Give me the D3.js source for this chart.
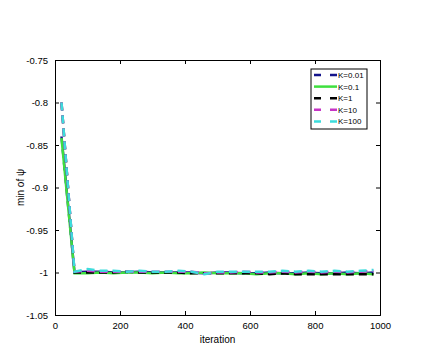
<!DOCTYPE html>
<meta charset="utf-8">
<style>
body { margin: 0; background: #fff; }
text { font-family: "Liberation Sans", Arial, sans-serif; fill: #000; }
.axis text { font-size: 9.5px; }
.axis path, .axis line { stroke: #000; }
</style>
<svg width="447" height="350"></svg>
<script src="https://d3js.org/d3.v7.min.js"></script>
<script>
var iterations = [20, 60, 100, 140, 180, 220, 260, 300, 340, 380, 420, 460, 500, 540, 580, 620, 660, 700, 740, 780, 820, 860, 900, 940, 980];
var k001 = [-0.840, -1.000, -0.999, -0.999, -1.000, -1.000, -0.999, -1.000, -1.000, -1.000, -1.000, -1.001, -1.000, -1.000, -1.001, -1.001, -1.000, -1.001, -1.001, -1.000, -1.001, -1.001, -1.000, -1.001, -1.000];
var k01  = [-0.842, -1.001, -1.001, -1.000, -1.001, -1.000, -1.000, -1.001, -1.000, -1.001, -1.001, -1.000, -1.001, -1.001, -1.001, -1.002, -1.001, -1.001, -1.002, -1.001, -1.002, -1.001, -1.002, -1.001, -1.002];
var k1   = [-0.800, -1.000, -1.000, -1.000, -1.000, -0.999, -1.000, -1.000, -1.000, -1.000, -1.001, -1.001, -1.001, -1.001, -1.001, -1.001, -1.002, -1.001, -1.002, -1.002, -1.002, -1.002, -1.002, -1.002, -1.002];
var k10  = [-0.800, -0.999, -0.998, -0.999, -0.999, -0.999, -0.999, -0.999, -0.999, -0.999, -0.999, -1.001, -1.000, -1.000, -0.999, -1.000, -1.000, -0.999, -1.000, -0.999, -1.000, -0.999, -1.000, -0.999, -0.998];
var k100 = [-0.800, -0.999, -0.996, -0.998, -0.998, -0.999, -0.998, -0.999, -0.999, -0.998, -0.999, -1.002, -0.999, -0.999, -0.999, -0.999, -0.999, -0.998, -0.999, -0.998, -0.999, -0.998, -0.999, -0.998, -0.997];
var labels = ["K=0.01", "K=0.1", "K=1", "K=10", "K=100"];
var colors = ["#14148c", "#3ee03e", "#000000", "#c634c6", "#3cdcdc"];
var dashes = ["8,5", null, "8,5", "8,5", "8,5"];
var xTicks = [0, 200, 400, 600, 800, 1000];
var yTicks = [-1.05, -1, -0.95, -0.9, -0.85, -0.8, -0.75];

var series = [k001, k01, k1, k10, k100];

var svg = d3.select("svg"),
    mLeft = 55, mRight = 380, mTop = 60, mBottom = 315;

var x = d3.scaleLinear().domain([0, 1000]).range([mLeft, mRight]);
var y = d3.scaleLinear().domain([-1.05, -0.75]).range([mBottom, mTop]);

var fmt = function(d) { return String(+d.toFixed(2)); };

svg.append("g").attr("class", "axis")
   .attr("transform", "translate(0," + mBottom + ")")
   .call(d3.axisBottom(x).tickValues(xTicks).tickSize(-4).tickPadding(7).tickFormat(d3.format("d")))
svg.append("g").attr("class", "axis")
   .attr("transform", "translate(0," + mTop + ")")
   .call(d3.axisTop(x).tickValues(xTicks).tickSize(-4).tickFormat(""))
svg.append("g").attr("class", "axis")
   .attr("transform", "translate(" + mLeft + ",0)")
   .call(d3.axisLeft(y).tickValues(yTicks).tickSize(-4).tickPadding(7).tickFormat(fmt))
svg.append("g").attr("class", "axis")
   .attr("transform", "translate(" + mRight + ",0)")
   .call(d3.axisRight(y).tickValues(yTicks).tickSize(-4).tickFormat(""))

var line = d3.line()
             .x((d, i) => x(iterations[i]))
             .y(d => y(d));

svg.append("g").selectAll("path")
   .data(series)
   .enter().append("path")
     .attr("d", line)
     .attr("fill", "none")
     .attr("stroke", (d, i) => colors[i])
     .attr("stroke-width", 2.5)
     .attr("stroke-dasharray", (d, i) => dashes[i])

// legend
var legend = svg.append("g").attr("transform", "translate(311,69)");
legend.append("rect")
        .attr("width", 56)
        .attr("height", 60)
        .attr("fill", "#fff")
        .attr("stroke", "#000")
        .attr("stroke-width", 1)
var entries = legend.selectAll("g.entry")
                    .data(labels)
                    .enter().append("g")
                      .attr("class", "entry")
                      .attr("transform", (d, i) => "translate(0," + (6 + i * 11.6) + ")")
entries.append("line")
         .attr("x1", 3).attr("x2", 26)
         .attr("stroke", (d, i) => colors[i])
         .attr("stroke-width", 2.5)
         .attr("stroke-dasharray", (d, i) => dashes[i] ? "7,9" : null)
entries.append("text")
         .attr("x", 27)
         .attr("y", 3)
         .attr("font-size", 8)
         .text(d => d)

svg.append("text")
   .attr("x", (mLeft + mRight) / 2)
   .attr("y", 343)
   .attr("text-anchor", "middle")
   .attr("font-size", 10)
   .text("iteration")

svg.append("text")
   .attr("transform", "translate(24," + (mTop + mBottom) / 2 + ") rotate(-90)")
   .attr("text-anchor", "middle")
   .attr("font-size", 10)
   .text("min of ψ")
</script>
